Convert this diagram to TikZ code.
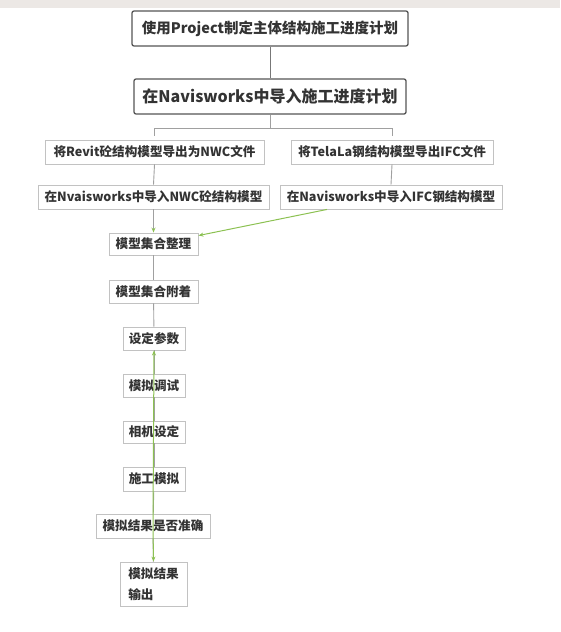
\documentclass[tikz,border=0pt]{standalone}
\usepackage{fontspec}
\setmainfont{Noto Sans CJK SC}
\usetikzlibrary{arrows.meta}
\definecolor{txt}{HTML}{333333}
\definecolor{darkb}{HTML}{555555}
\definecolor{lightb}{HTML}{C2C2C2}
\definecolor{conn}{HTML}{A0A0A0}
\definecolor{grn}{HTML}{8CC152}
\definecolor{band}{HTML}{ECE8E5}
\tikzset{
  mainbox/.style={draw=darkb, line width=1.3pt, rounded corners=2pt, fill=white, text=txt, inner sep=0pt, align=center},
  subbox/.style={draw=lightb, line width=0.9pt, fill=white, text=txt, inner sep=0pt, align=center, font=\bfseries\fontsize{12.6}{14}\selectfont},
  lowbox/.style={subbox, font=\bfseries\fontsize{12.6}{21}\selectfont},
  link/.style={draw=conn, line width=0.9pt},
  toplink/.style={draw=darkb!80, line width=1pt},
  glink/.style={draw=grn, line width=1pt, -{Stealth[length=5pt,width=4pt]}},
  gtip/.style={draw=conn, line width=0.9pt, -{Stealth[length=5pt,width=4pt,color=grn]}}
}
\begin{document}
\begin{tikzpicture}[x=1pt,y=-1pt]
\useasboundingbox (0,0) rectangle (560,632);
\fill[band] (0,0) rectangle (560,8);
\node[mainbox, minimum width=276pt, minimum height=35pt, font=\bfseries\fontsize{14.5}{16}\selectfont] (b1) at (270,28.5) {使用Project制定主体结构施工进度计划};
\node[mainbox, minimum width=272pt, minimum height=35pt, font=\bfseries\fontsize{16}{18}\selectfont] (b2) at (270,96.5) {在Navisworks中导入施工进度计划};
\node[subbox, minimum width=219pt, minimum height=24pt] (b3l) at (154.5,152) {将Revit砼结构模型导出为NWC文件};
\node[subbox, minimum width=202pt, minimum height=24pt] (b3r) at (392,152) {将TelaLa钢结构模型导出IFC文件};
\node[subbox, minimum width=231pt, minimum height=24pt] (b4l) at (153.5,197) {在Nvaisworks中导入NWC砼结构模型};
\node[subbox, minimum width=222pt, minimum height=24pt] (b4r) at (391,197) {在Navisworks中导入IFC钢结构模型};
\node[lowbox, minimum width=89pt, minimum height=22pt] (b5) at (153.5,244) {模型集合整理};
\node[lowbox, minimum width=89pt, minimum height=23pt] (b6) at (153.5,291.5) {模型集合附着};
\node[lowbox, minimum width=62pt, minimum height=23pt] (b7) at (154,338.5) {设定参数};
\node[lowbox, minimum width=62pt, minimum height=23pt] (b8) at (154,385.5) {模拟调试};
\node[lowbox, minimum width=62pt, minimum height=22pt] (b9) at (154,432) {相机设定};
\node[lowbox, minimum width=62pt, minimum height=24pt] (b10) at (154,479) {施工模拟};
\node[lowbox, minimum width=114pt, minimum height=24pt] (b11) at (153,526) {模拟结果是否准确};
\node[lowbox, minimum width=67pt, minimum height=44pt, align=left] (b12) at (153.5,584) {模拟结果\\输出};
\coordinate (split) at (270,128.5);
\draw[toplink] (b1.south) -- (b2.north);
\draw[link] (b2.south) -- (split);
\draw[link, shorten >=4pt] (split) -| (b3l.north);
\draw[link, shorten >=4pt] (split) -| (b3r.north);
\draw[link] (b3l.south) -- (b4l.north);
\draw[link] (b3r.south) -- (b4r.north);
\draw[gtip] (b4l.south) -- (b5.north);
\draw[glink] ([xshift=-64pt]b4r.south) -- ([yshift=-3pt]b5.north east);
\draw[link] (b5) -- (b6);
\draw[link] (b6) -- (b7);
\draw[link] (b7) -- (b8);
\draw[link] (b8) -- (b9);
\draw[link] (b9) -- (b10);
\draw[link] (b10) -- (b11);
\draw[link] (b11) -- (b12);
\draw[glink] (b11.center) -- (b7.south);
\draw[glink] (b11.center) -- (b12.north);
\end{tikzpicture}
\end{document}
